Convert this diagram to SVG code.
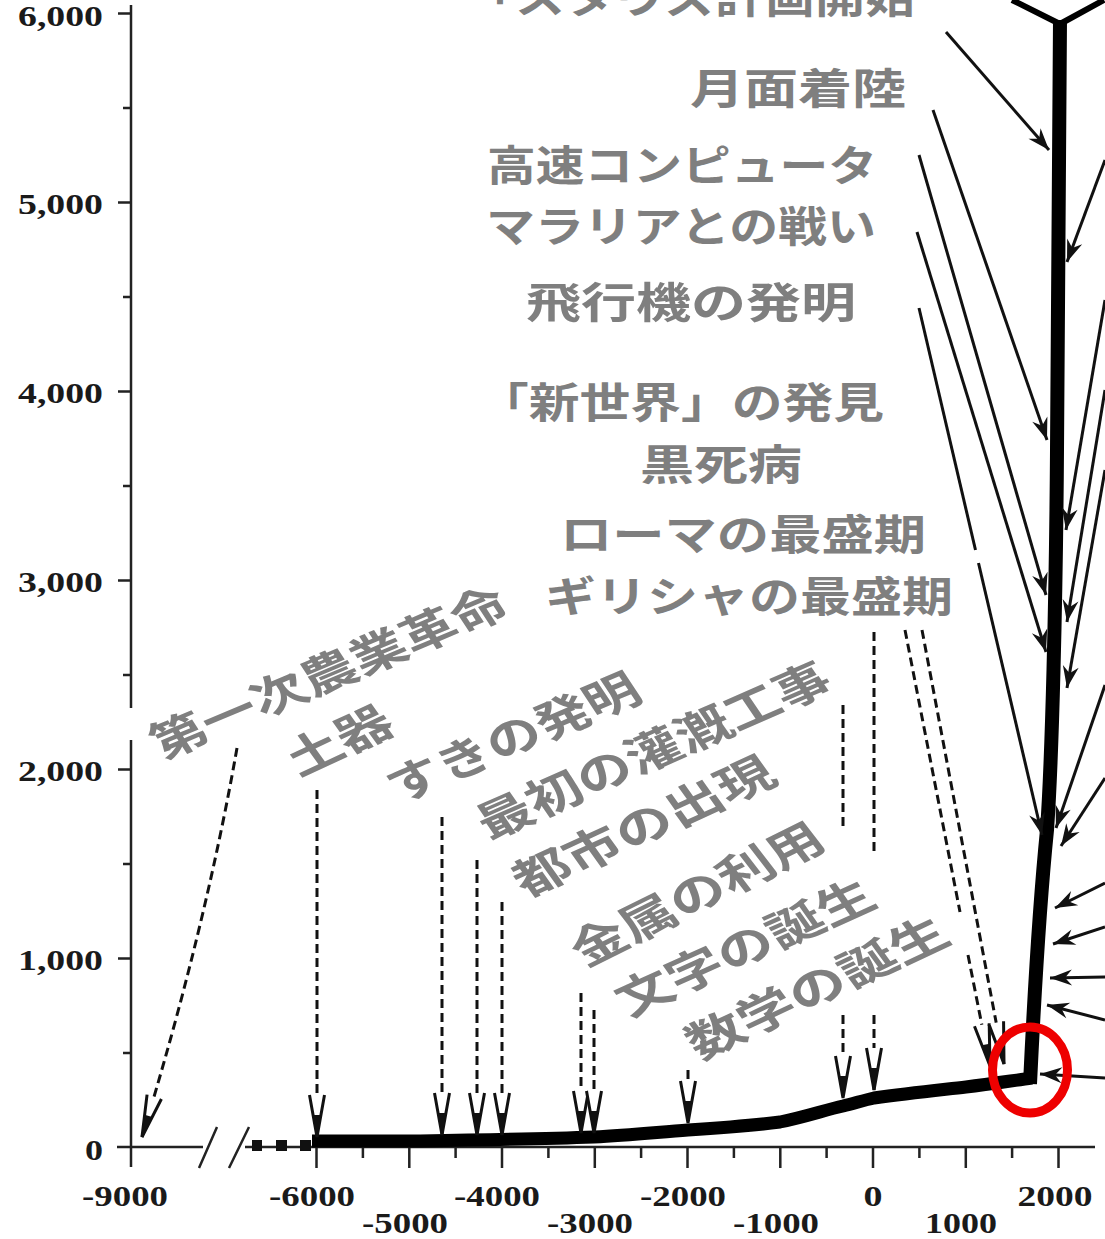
<svg xmlns="http://www.w3.org/2000/svg" width="1105" height="1239" viewBox="0 0 1105 1239">
<style>
.lbl{font-family:"Noto Sans CJK JP","Noto Sans CJK SC",sans-serif;font-weight:700;font-size:42px;fill:#7f7f7f;text-anchor:middle;dominant-baseline:central}
.rl{font-size:43px}
.num{font-family:"Liberation Serif",serif;font-weight:700;font-size:30px;fill:#1a1a1a}
.ax{stroke:#222;stroke-width:2.5;fill:none}
.dash{stroke:#111;stroke-width:3;stroke-dasharray:9 5;fill:none}
.sol{stroke:#111;stroke-width:3;fill:none}
</style>
<defs>
<marker id="ah" markerUnits="userSpaceOnUse" viewBox="-24 -10 26 20" refX="0" refY="0" markerWidth="26" markerHeight="20" orient="auto">
<path d="M0,0 L-22,-8 L-15,0 L-22,8 Z" fill="#111"/>
</marker>
<marker id="va" markerUnits="userSpaceOnUse" viewBox="-46 -12 48 24" refX="0" refY="0" markerWidth="48" markerHeight="24" orient="auto">
<path d="M-42,-7.5 L0,0 L-42,7.5" fill="#fff" stroke="#111" stroke-width="3" stroke-dasharray="none"/>
<path d="M-22,-4 L0,0 L-22,4 Z" fill="#111"/>
</marker>
</defs>
<rect width="1105" height="1239" fill="#fff"/>

<g id="axes">
<path class="ax" d="M131,5 V708 M131,740 V1167"/>
<path class="ax" d="M118,13.5 H131 M118,202.5 H131 M118,391.5 H131 M118,580.5 H131 M118,769.5 H131 M118,958.5 H131 M123,108 H131 M123,297 H131 M123,486 H131 M123,675 H131 M123,864 H131 M123,1053 H131"/>
<path class="ax" d="M117,1147 H203 M245,1147 H1095"/>
<path class="ax" d="M199,1168 L217,1127 M229,1168 L249,1127"/>
<path class="ax" d="M316.5,1147 v21 M409.3,1147 v21 M502,1147 v21 M594.8,1147 v21 M687.5,1147 v21 M780.3,1147 v21 M873,1147 v21 M965.8,1147 v21 M1058.5,1147 v21 M362.9,1147 v11 M455.6,1147 v11 M548.4,1147 v11 M641.1,1147 v11 M733.9,1147 v11 M826.6,1147 v11 M919.4,1147 v11 M1012.1,1147 v11"/>
<g fill="#111"><rect x="252" y="1140" width="10" height="11"/><rect x="276" y="1140" width="11" height="11"/><rect x="300" y="1140" width="11" height="11"/></g>
<g class="num" text-anchor="end">
<text x="103" y="26" textLength="85" lengthAdjust="spacingAndGlyphs">6,000</text>
<text x="103" y="214" textLength="85" lengthAdjust="spacingAndGlyphs">5,000</text>
<text x="103" y="403" textLength="85" lengthAdjust="spacingAndGlyphs">4,000</text>
<text x="103" y="592" textLength="85" lengthAdjust="spacingAndGlyphs">3,000</text>
<text x="103" y="781" textLength="85" lengthAdjust="spacingAndGlyphs">2,000</text>
<text x="103" y="970" textLength="85" lengthAdjust="spacingAndGlyphs">1,000</text>
<text x="103" y="1160" textLength="18" lengthAdjust="spacingAndGlyphs">0</text>
</g>
<g class="num" text-anchor="middle">
<text x="125" y="1206" textLength="86" lengthAdjust="spacingAndGlyphs">-9000</text>
<text x="312" y="1206" textLength="86" lengthAdjust="spacingAndGlyphs">-6000</text>
<text x="497" y="1206" textLength="86" lengthAdjust="spacingAndGlyphs">-4000</text>
<text x="683" y="1206" textLength="86" lengthAdjust="spacingAndGlyphs">-2000</text>
<text x="873" y="1206" textLength="19" lengthAdjust="spacingAndGlyphs">0</text>
<text x="1055" y="1206" textLength="75" lengthAdjust="spacingAndGlyphs">2000</text>
<text x="405" y="1233" textLength="86" lengthAdjust="spacingAndGlyphs">-5000</text>
<text x="590" y="1233" textLength="86" lengthAdjust="spacingAndGlyphs">-3000</text>
<text x="776" y="1233" textLength="86" lengthAdjust="spacingAndGlyphs">-1000</text>
<text x="961" y="1233" textLength="72" lengthAdjust="spacingAndGlyphs">1000</text>
</g>
</g>

<g id="growth">
<path d="M312,1141 L420,1141 C480,1140 540,1139 594,1137 C630,1135 660,1132 688,1130 C720,1128 750,1126 780,1122 C805,1117 825,1110 843,1106 C855,1103 865,1100 874,1098 C910,1093 940,1090 966,1087 C990,1084 1010,1081 1032,1078" fill="none" stroke="#000" stroke-width="13"/>
<path d="M1030,1084 C1034,1000 1040,900 1047,830 C1052,760 1056,600 1057,450 L1060,20" fill="none" stroke="#000" stroke-width="14"/>
<path d="M1060,24 L1012,0 M1060,24 L1104,0" fill="none" stroke="#000" stroke-width="6"/>
</g>

<g id="connectors">
<path class="sol" marker-end="url(#ah)" d="M946,32 L1049,150"/>
<path class="sol" marker-end="url(#ah)" d="M933,110 L1047,440"/>
<path class="sol" marker-end="url(#ah)" d="M919,155 L1046,595"/>
<path class="sol" marker-end="url(#ah)" d="M917,232 L1046,652"/>
<path class="sol" d="M919,308 L975.5,550"/>
<path class="sol" marker-end="url(#ah)" d="M978.5,563 L1042,835"/>
<path class="sol" marker-end="url(#ah)" d="M1105,160 L1067,262"/>
<path class="sol" marker-end="url(#ah)" d="M1105,300 L1066,530"/>
<path class="sol" marker-end="url(#ah)" d="M1105,390 L1067,622"/>
<path class="sol" marker-end="url(#ah)" d="M1105,470 L1067,688"/>
<path class="sol" marker-end="url(#ah)" d="M1105,685 L1056,828"/>
<path class="sol" marker-end="url(#ah)" d="M1105,778 L1061,846"/>
<path class="sol" marker-end="url(#ah)" d="M1105,883 L1055,908"/>
<path class="sol" marker-end="url(#ah)" d="M1105,927 L1053,944"/>
<path class="sol" marker-end="url(#ah)" d="M1105,977 L1050,978"/>
<path class="sol" marker-end="url(#ah)" d="M1105,1020 L1047,1005"/>
<path class="sol" marker-end="url(#ah)" d="M1105,1078 L1040,1074"/>

<path class="dash" marker-end="url(#va)" d="M237,748 Q205,930 142,1137"/>
<path class="dash" marker-end="url(#va)" d="M317,790 V1137"/>
<path class="dash" marker-end="url(#va)" d="M442,817 V1135"/>
<path class="dash" marker-end="url(#va)" d="M477,860 V1135"/>
<path class="dash" marker-end="url(#va)" d="M502,902 V1135"/>
<path class="dash" marker-end="url(#va)" d="M581,993 V1133"/>
<path class="dash" marker-end="url(#va)" d="M594,1010 V1133"/>
<path class="dash" marker-end="url(#va)" d="M688,1070 V1123"/>
<path class="dash" d="M843,705 V830"/>
<path class="dash" marker-end="url(#va)" d="M843,1015 V1098"/>
<path class="dash" d="M874,632 V852"/>
<path class="dash" marker-end="url(#va)" d="M874,1015 V1090"/>
<path class="dash" d="M905,630 L960,912"/>
<path class="dash" marker-end="url(#va)" d="M968,955 L990,1066"/>
<path class="dash" marker-end="url(#va)" d="M922,630 L1004,1064"/>
</g>

<g id="labels-modern" class="lbl">
<text x="690" y="-6" textLength="450" lengthAdjust="spacingAndGlyphs">「スタウズ計画開始</text>
<text x="798" y="85" textLength="216" lengthAdjust="spacingAndGlyphs">月面着陸</text>
<text x="682" y="162" textLength="390" lengthAdjust="spacingAndGlyphs">高速コンピュータ</text>
<text x="681" y="223" textLength="390" lengthAdjust="spacingAndGlyphs">マラリアとの戦い</text>
<text x="691" y="299" textLength="330" lengthAdjust="spacingAndGlyphs">飛行機の発明</text>
<text x="681" y="399" textLength="406" lengthAdjust="spacingAndGlyphs">「新世界」の発見</text>
<text x="721" y="461" textLength="162" lengthAdjust="spacingAndGlyphs">黒死病</text>
<text x="743" y="531" textLength="366" lengthAdjust="spacingAndGlyphs">ローマの最盛期</text>
<text x="749" y="593" textLength="408" lengthAdjust="spacingAndGlyphs">ギリシャの最盛期</text>
</g>

<g id="labels-ancient" class="lbl rl">
<text transform="matrix(1.25,0,0,1,327,670) rotate(-27.7)" textLength="316" lengthAdjust="spacingAndGlyphs">第一次農業革命</text>
<text transform="matrix(1.25,0,0,1,337,738) rotate(-30)" textLength="92" lengthAdjust="spacingAndGlyphs">土器</text>
<text transform="matrix(1.25,0,0,1,511.5,735) rotate(-28)" textLength="223" lengthAdjust="spacingAndGlyphs">すきの発明</text>
<text transform="matrix(1.25,0,0,1,651.5,748) rotate(-28.7)" textLength="316" lengthAdjust="spacingAndGlyphs">最初の灌漑工事</text>
<text transform="matrix(1.25,0,0,1,641.5,823.5) rotate(-29.8)" textLength="234" lengthAdjust="spacingAndGlyphs">都市の出現</text>
<text transform="matrix(1.25,0,0,1,695,891.5) rotate(-31.7)" textLength="230" lengthAdjust="spacingAndGlyphs">金属の利用</text>
<text transform="matrix(1.25,0,0,1,743,945) rotate(-29.4)" textLength="230" lengthAdjust="spacingAndGlyphs">文字の誕生</text>
<text transform="matrix(1.25,0,0,1,815,985) rotate(-30.5)" textLength="235" lengthAdjust="spacingAndGlyphs">数学の誕生</text>
</g>

<ellipse id="highlight" cx="1030" cy="1070" rx="37.5" ry="43" fill="none" stroke="#ee0000" stroke-width="9"/>
</svg>
